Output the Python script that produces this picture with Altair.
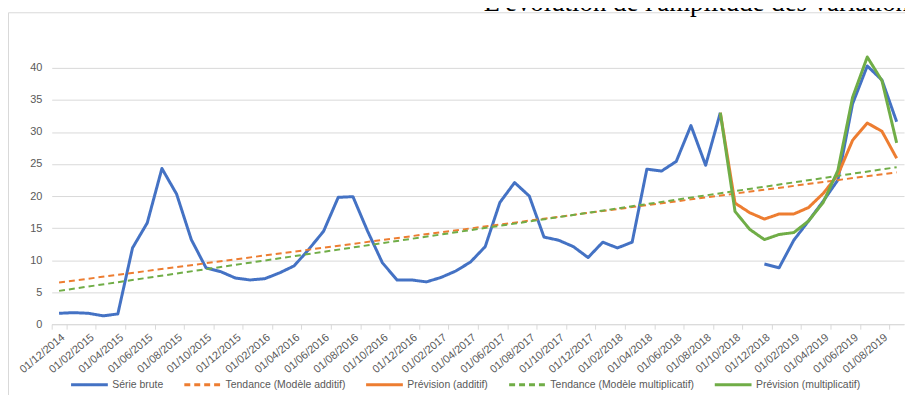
import altair as alt
import pandas as pd

dates = [
    "01/12/2014", "01/01/2015", "01/02/2015", "01/03/2015", "01/04/2015", "01/05/2015",
    "01/06/2015", "01/07/2015", "01/08/2015", "01/09/2015", "01/10/2015", "01/11/2015",
    "01/12/2015", "01/01/2016", "01/02/2016", "01/03/2016", "01/04/2016", "01/05/2016",
    "01/06/2016", "01/07/2016", "01/08/2016", "01/09/2016", "01/10/2016", "01/11/2016",
    "01/12/2016", "01/01/2017", "01/02/2017", "01/03/2017", "01/04/2017", "01/05/2017",
    "01/06/2017", "01/07/2017", "01/08/2017", "01/09/2017", "01/10/2017", "01/11/2017",
    "01/12/2017", "01/01/2018", "01/02/2018", "01/03/2018", "01/04/2018", "01/05/2018",
    "01/06/2018", "01/07/2018", "01/08/2018", "01/09/2018", "01/10/2018", "01/11/2018",
    "01/12/2018", "01/01/2019", "01/02/2019", "01/03/2019", "01/04/2019", "01/05/2019",
    "01/06/2019", "01/07/2019", "01/08/2019", "01/09/2019",
]

serie_brute = [
    1.7, 1.8, 1.7, 1.3, 1.6, 11.9, 15.8, 24.3, 20.3, 13.2,
    8.8, 8.2, 7.2, 6.9, 7.1, 8.0, 9.1, 11.7, 14.5, 19.8,
    19.9, 14.5, 9.6, 6.9, 6.9, 6.6, 7.3, 8.3, 9.7, 12.1,
    19.0, 22.1, 20.0, 13.6, 13.1, 12.1, 10.4, 12.8, 11.9, 12.8,
    24.2, 23.9, 25.4, 31.0, 24.8, 33.0, None, None, 9.4, 8.8,
    13.1, 16.1, 19.2, 22.5, 34.4, 40.3, 38.1, 31.6,
]

# forecasts start at 01/09/2018
prevision_start = "01/09/2018"
prevision_additif = [33.0, 18.9, 17.4, 16.4, 17.2, 17.2, 18.2, 20.4, 23.3, 28.7, 31.4, 30.1, 25.9]
prevision_multiplicatif = [33.0, 17.6, 14.8, 13.2, 14.0, 14.3, 16.1, 19.0, 24.0, 35.4, 41.7, 38.0, 28.3]

# straight trend lines: value at first and last month
tendance_additif = [6.5, 23.7]
tendance_multiplicatif = [5.2, 24.5]

series_names = [
    "Série brute",
    "Tendance (Modèle additif)",
    "Prévision (additif)",
    "Tendance (Modèle multiplicatif)",
    "Prévision (multiplicatif)",
]
series_colors = ["#4472C4", "#ED7D31", "#ED7D31", "#70AD47", "#70AD47"]
series_dashes = [[1, 0], [6, 4], [1, 0], [6, 4], [1, 0]]
series_widths = [3, 2, 3, 2, 3]

title_text = "L'évolution de l'amplitude des variations"
y_ticks = [0, 5, 10, 15, 20, 25, 30, 35, 40]

rows = []
seg = 0
for d, v in zip(dates, serie_brute):
    if v is None:
        seg += 1
        continue
    rows.append(dict(date=d, value=v, series=series_names[0], seg="b%d" % seg))
for v, d in zip(tendance_additif, [dates[0], dates[-1]]):
    rows.append(dict(date=d, value=v, series=series_names[1], seg="t1"))
i0 = dates.index(prevision_start)
for k, v in enumerate(prevision_additif):
    rows.append(dict(date=dates[i0 + k], value=v, series=series_names[2], seg="p1"))
for v, d in zip(tendance_multiplicatif, [dates[0], dates[-1]]):
    rows.append(dict(date=d, value=v, series=series_names[3], seg="t2"))
for k, v in enumerate(prevision_multiplicatif):
    rows.append(dict(date=dates[i0 + k], value=v, series=series_names[4], seg="p2"))
df = pd.DataFrame(rows)

legend = alt.Legend(
    title=None, orient="none", legendX=18, legendY=299, direction="horizontal",
    symbolType="stroke", symbolSize=1369, symbolStrokeWidth=3,
    labelFont="Liberation Sans", labelFontSize=10.5, labelColor="#595959",
    labelOffset=3, columnPadding=14,
)

x_enc = alt.X(
    "date:N",
    sort=dates,
    scale=alt.Scale(type="band", domain=dates, paddingInner=0, paddingOuter=0),
    axis=alt.Axis(
        values=dates[::2], title=None, labelAngle=-40, labelAlign="right",
        labelBaseline="top", tickBand="extent", tickSize=5, tickColor="#d9d9d9",
        domainColor="#d9d9d9", labelColor="#595959", labelFont="Liberation Sans",
        labelFontSize=11, labelPadding=2, grid=False,
    ),
)
y_enc = alt.Y(
    "value:Q",
    scale=alt.Scale(domain=[0, 40], nice=False),
    axis=alt.Axis(
        values=y_ticks, title=None, grid=True, gridColor="#d9d9d9", domain=False,
        ticks=False, labelPadding=10, labelColor="#595959",
        labelFont="Liberation Sans", labelFontSize=11,
    ),
)
color_enc = alt.Color(
    "series:N", scale=alt.Scale(domain=series_names, range=series_colors), legend=legend
)
dash_enc = alt.StrokeDash(
    "series:N", scale=alt.Scale(domain=series_names, range=series_dashes), legend=legend
)

frame = alt.Chart(pd.DataFrame({"a": [1]})).mark_rect(
    fill="transparent", stroke="#d9d9d9", strokeWidth=1
).encode(
    x=alt.value(-43.5), x2=alt.value(900), y=alt.value(-55.5), y2=alt.value(400)
)

title = alt.Chart(pd.DataFrame({"t": [title_text]})).mark_text(
    font="Liberation Serif", fontSize=27, color="#000000", align="left", baseline="alphabetic"
).encode(x=alt.value(435), y=alt.value(-57), text="t:N")

layers = [frame, title]
for name, w in zip(series_names, series_widths):
    layers.append(
        alt.Chart(df).transform_filter(alt.datum.series == name).mark_line(
            strokeWidth=w, strokeCap="butt", strokeJoin="round"
        ).encode(
            x=x_enc, y=y_enc, color=color_enc, strokeDash=dash_enc, detail="seg:N"
        )
    )

chart = alt.layer(*layers).properties(
    width=858, height=258,
    padding={"left": 44, "top": 59, "right": 1, "bottom": 70},
    autosize=alt.AutoSizeParams(type="none"),
).configure_view(strokeWidth=0)

chart.save("out.html", embed_options={"renderer": "svg", "actions": False})
